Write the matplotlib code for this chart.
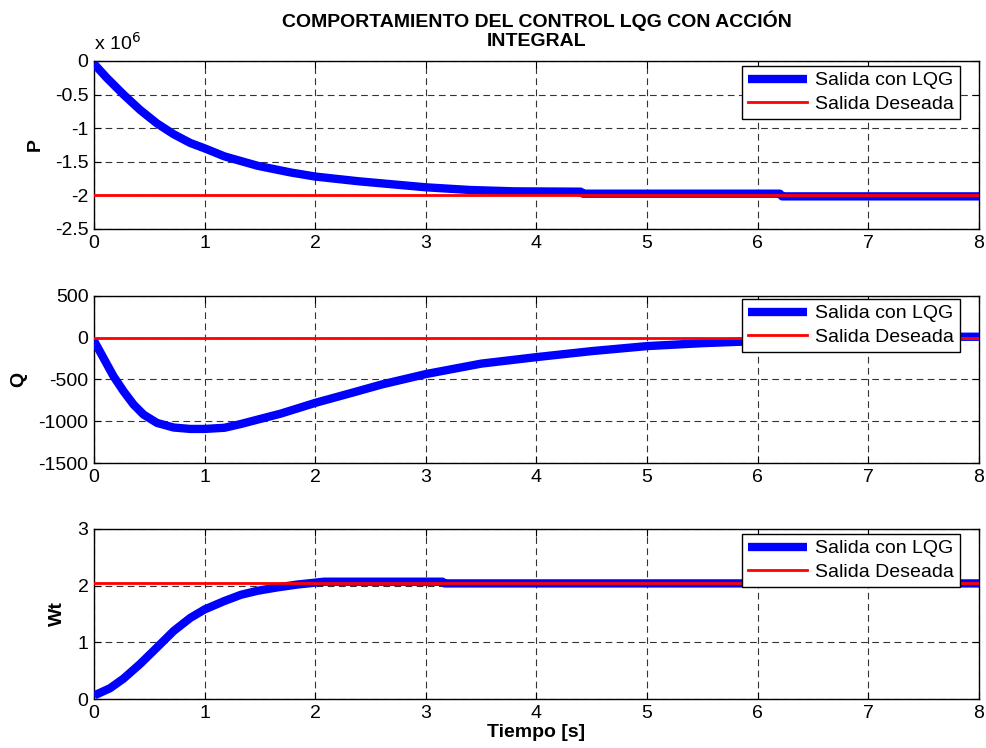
import matplotlib
matplotlib.use("Agg")
import matplotlib.pyplot as plt
from matplotlib.ticker import FuncFormatter

plt.rcParams["font.family"] = ["Liberation Sans", "DejaVu Sans"]
plt.rcParams["axes.unicode_minus"] = False

# time samples (s), per panel
t_p = [0, 0.01, 0.115, 0.267, 0.418, 0.57, 0.72, 0.87, 1.0, 1.18, 1.33, 1.48,
       1.78, 2.0, 2.39, 2.66, 3.0, 3.4, 3.8, 4.4, 4.42, 6.2, 6.22, 8.0]
p_lqg = [-0.03e6, -0.06e6, -0.25e6, -0.50e6, -0.73e6, -0.93e6, -1.09e6,
         -1.22e6, -1.30e6, -1.42e6, -1.49e6, -1.56e6, -1.66e6, -1.72e6,
         -1.79e6, -1.83e6, -1.88e6, -1.92e6, -1.94e6, -1.945e6, -1.975e6,
         -1.975e6, -2.015e6, -2.015e6]
p_ref = -2.0e6

t_q = [0, 0.01, 0.085, 0.176, 0.267, 0.358, 0.448, 0.57, 0.72, 0.87, 1.0,
       1.18, 1.33, 1.48, 1.69, 2.0, 2.33, 2.6, 3.0, 3.5, 4.0, 4.5, 5.0, 5.5,
       6.0, 6.2, 6.22, 8.0]
q_lqg = [-20, -60, -240, -460, -640, -800, -920, -1020, -1075, -1092, -1092,
         -1078, -1032, -980, -908, -780, -660, -560, -435, -310, -232, -160,
         -100, -65, -40, -30, 10, 12]
q_ref = 0

t_w = [0, 0.01, 0.145, 0.267, 0.418, 0.57, 0.72, 0.87, 1.0, 1.18, 1.33,
       1.48, 1.66, 1.84, 2.08, 3.15, 3.17, 8.0]
w_lqg = [0.05, 0.07, 0.19, 0.36, 0.62, 0.91, 1.20, 1.43, 1.58, 1.73, 1.84,
         1.91, 1.97, 2.02, 2.07, 2.07, 2.04, 2.04]
w_ref = 2.05

panels = [
    ("P", t_p, p_lqg, p_ref, (-2.5e6, 0), [-2.5e6, -2e6, -1.5e6, -1e6, -0.5e6, 0]),
    ("Q", t_q, q_lqg, q_ref, (-1500, 500), [-1500, -1000, -500, 0, 500]),
    ("Wt", t_w, w_lqg, w_ref, (0, 3), [0, 1, 2, 3]),
]
x_ticks = [0, 1, 2, 3, 4, 5, 6, 7, 8]
legend_labels = ["Salida con LQG", "Salida Deseada"]

fig = plt.figure(figsize=(9.86, 7.48), dpi=100, facecolor="white")
boxes = [(0.0953, 0.6939, 0.8976, 0.2246),
         (0.0953, 0.3810, 0.8976, 0.2233),
         (0.0953, 0.0655, 0.8976, 0.2273)]
leg_top_gap = [5, 3, 5]  # px between axes top and legend box

fs = 14
for (name, t, y, ref, ylim, yt), box, gap in zip(panels, boxes, leg_top_gap):
    ax = fig.add_axes(box)
    ax.plot(t, y, color="#0000ff", lw=6, solid_capstyle="butt",
            solid_joinstyle="round", label=legend_labels[0], zorder=3)
    ax.axhline(ref, color="#ff0000", lw=2, label=legend_labels[1], zorder=4)
    ax.set_xlim(0, 8)
    ax.set_ylim(*ylim)
    ax.set_xticks(x_ticks)
    ax.set_yticks(yt)
    ax.grid(True, color="#333333", lw=0.8, ls=(0, (6, 4)))
    ax.tick_params(direction="in", top=True, right=True, length=5,
                   labelsize=fs, pad=4)
    for s in ax.spines.values():
        s.set_linewidth(1.0)
    ax.set_ylabel(name, fontsize=fs, fontweight="bold", labelpad=8)
    h_px = box[3] * 748
    leg = ax.legend(loc="upper right", bbox_to_anchor=(0.9785, 1 - gap / h_px),
                    fontsize=fs, frameon=True, fancybox=False,
                    edgecolor="black", framealpha=1, handlelength=3.0,
                    handletextpad=0.45, borderpad=0.3, labelspacing=0.3,
                    borderaxespad=0)
    leg.get_frame().set_linewidth(1.0)
    if name == "P":
        ax.yaxis.set_major_formatter(FuncFormatter(lambda v, _: f"{v / 1e6:g}"))
        ax.text(0, 1.04, r"x 10$^6$", transform=ax.transAxes, fontsize=fs,
                ha="left", va="bottom")
        ax.set_title("COMPORTAMIENTO DEL CONTROL LQG CON ACCIÓN\nINTEGRAL",
                     fontsize=14, fontweight="bold", pad=11, linespacing=1.12)
    if name == "Wt":
        ax.set_xlabel("Tiempo [s]", fontsize=fs, fontweight="bold", labelpad=2)

fig.savefig("out.png", dpi=100, facecolor="white")
